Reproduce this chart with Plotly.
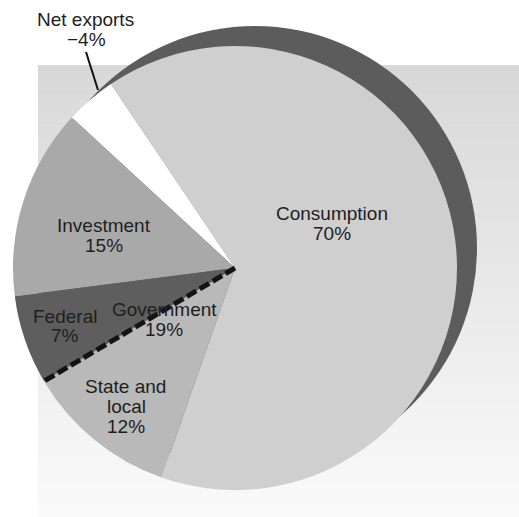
import math
import plotly.graph_objects as go

# Components of GDP (percent shares)
categories = ["Consumption", "Net exports", "Investment", "Federal", "State and local"]
shares = [70, -4, 15, 7, 12]
slice_colors = ["#cfcfcf", "#ffffff", "#a9a9a9", "#5e5e5e", "#b9b9b9"]
group_name = "Government"
group_members = ["Federal", "State and local"]

W, H = 519, 517
FONT = "Liberation Sans, Arial, Helvetica, sans-serif"
TEXT_COLOR = "#1e1e1e"

# pie geometry in pixels (center, radius) and drop-shadow offset
CX, CY, R = 235, 268, 222
SHADOW_DX, SHADOW_DY = 20, -20
ROTATION = -34


def px(x):
    return x / W


def py(y):
    return 1 - y / H


def domain(cx, cy, r):
    return dict(x=[px(cx - r), px(cx + r)], y=[py(cy + r), py(cy - r)])


fig = go.Figure()

# dark shadow disc behind the pie
fig.add_trace(go.Pie(
    values=[1], labels=["shadow"], marker=dict(colors=["#5c5c5c"], line=dict(width=0)),
    textinfo="none", hoverinfo="skip", showlegend=False, sort=False,
    domain=domain(CX + SHADOW_DX, CY + SHADOW_DY, R),
))

# main pie: slice sizes are the magnitudes of the shares
fig.add_trace(go.Pie(
    values=[abs(v) for v in shares], labels=categories,
    marker=dict(colors=slice_colors, line=dict(width=0)),
    textinfo="none", hoverinfo="label+value", showlegend=False, sort=False,
    direction="counterclockwise", rotation=ROTATION,
    domain=domain(CX, CY, R),
))

shapes = []
# vertical gradient panel behind the pie
top_y, bot_y, left_x = 65, H, 38
n = 90
c_top, c_bot = 216, 250
for i in range(n):
    y0 = top_y + (bot_y - top_y) * i / n
    y1 = top_y + (bot_y - top_y) * (i + 1) / n + 0.6
    c = round(c_top + (c_bot - c_top) * i / (n - 1))
    shapes.append(dict(type="rect", xref="paper", yref="paper", layer="below",
                       x0=px(left_x), x1=1, y0=py(min(y1, H)), y1=py(y0),
                       fillcolor=f"rgb({c},{c},{c})", line=dict(width=0)))

# dashed divider between the two government slices, placed from the slice values
total = sum(abs(v) for v in shares)
idx = categories.index(group_members[1])
ccw_deg = sum(abs(v) for v in shares[1:idx]) * 360 / total
theta = math.radians(ROTATION - ccw_deg)
ex, ey = CX + R * math.sin(theta), CY - R * math.cos(theta)
shapes.append(dict(type="line", xref="paper", yref="paper", layer="above",
                   x0=px(CX), y0=py(CY), x1=px(ex), y1=py(ey),
                   line=dict(color="#141414", width=5, dash="11px,4px")))

# leader line for the net exports label
shapes.append(dict(type="line", xref="paper", yref="paper", layer="above",
                   x0=px(86), y0=py(52), x1=px(98), y1=py(90),
                   line=dict(color="#111111", width=2)))


def pct(v):
    return ("\u2212" if v < 0 else "") + f"{abs(v)}%"


share = dict(zip(categories, shares))
group_total = sum(share[m] for m in group_members)

labels = [
    ("Net exports", 85, 19), (pct(share["Net exports"]), 86, 39.5),
    ("Consumption", 332, 213), (pct(share["Consumption"]), 332, 233.5),
    ("Investment", 104, 225.5), (pct(share["Investment"]), 104, 245.5),
    ("Federal", 65, 316), (pct(share["Federal"]), 65, 335.5),
    (group_name, 164, 309.5), (pct(group_total), 164, 329.5),
    ("State and", 125, 386.5), ("local", 126, 406), (pct(share["State and local"]), 126, 426),
]

annotations = [
    dict(text=t, x=px(x), y=py(y), xref="paper", yref="paper", showarrow=False,
         xanchor="center", yanchor="middle",
         font=dict(family=FONT, size=19, color=TEXT_COLOR))
    for t, x, y in labels
]

fig.update_layout(
    width=W, height=H, margin=dict(l=0, r=0, t=0, b=0),
    paper_bgcolor="#ffffff", plot_bgcolor="#ffffff",
    shapes=shapes, annotations=annotations,
)

fig.write_html("out.html")
